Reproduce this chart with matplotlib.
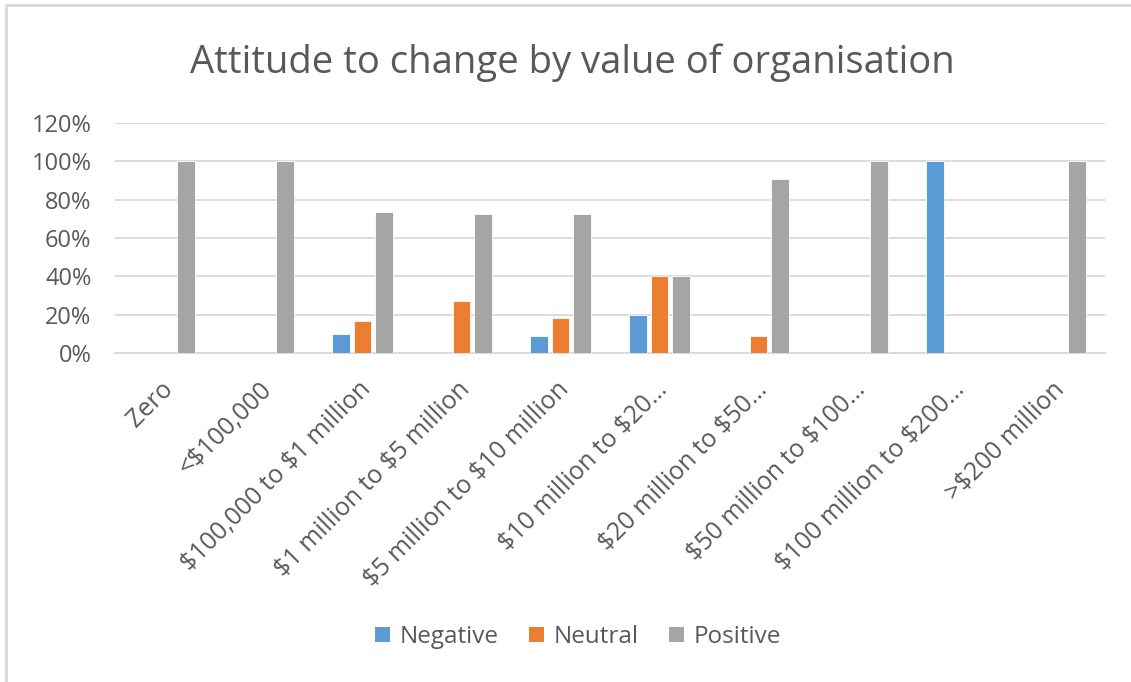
import matplotlib as mpl
import matplotlib.pyplot as plt
import matplotlib.transforms as mtransforms
import numpy as np
from matplotlib.patches import Patch, Rectangle

CATEGORIES = ["Zero", "<$100,000", "$100,000 to $1 million",
              "$1 million to $5 million", "$5 million to $10 million",
              "$10 million to $20\u2026", "$20 million to $50\u2026",
              "$50 million to $100\u2026", "$100 million to $200\u2026",
              ">$200 million"]
NEGATIVE = [0, 0, 10.0, 0, 9.1, 20.0, 0, 0, 100, 0]
NEUTRAL = [0, 0, 16.7, 27.3, 18.2, 40.0, 9.1, 0, 0, 0]
POSITIVE = [100, 100, 73.3, 72.7, 72.7, 40.0, 90.9, 100, 0, 100]

SERIES = ["Negative", "Neutral", "Positive"]
COLORS = ["#5B9BD5", "#ED7D31", "#A5A5A5"]
TEXT = "#595959"
GRID = "#D9D9D9"

mpl.rcParams.update({
    "font.family": ["Open Sans", "DejaVu Sans"],
    "text.parse_math": False,
    "text.color": TEXT,
    "xtick.color": TEXT,
    "ytick.color": TEXT,
})

fig = plt.figure(figsize=(11.31, 6.82), dpi=100)
ax = fig.add_axes((115/1131, 1-353.3/682, 990/1131, 230.6/682))

x = np.arange(len(CATEGORIES))
stride = 0.217
width = 0.18
for i, vals in enumerate([NEGATIVE, NEUTRAL, POSITIVE]):
    ax.bar(x + (i-1)*stride, vals, width, color=COLORS[i],
           edgecolor="white", linewidth=0.6, zorder=3)

ax.set_xlim(-0.5, len(CATEGORIES)-0.5)
ax.set_ylim(0, 120)
ax.set_yticks(np.arange(0, 121, 20))
ax.set_yticklabels(["{}%".format(v) for v in range(0, 121, 20)])
ax.yaxis.grid(True, color=GRID, linewidth=1.3, zorder=0)
for s in ["top", "right", "left"]:
    ax.spines[s].set_visible(False)
ax.spines["bottom"].set_color(GRID)
ax.spines["bottom"].set_linewidth(1.3)
ax.tick_params(axis="y", length=0, labelsize=17, pad=17)
ax.tick_params(axis="x", length=0, labelsize=18, pad=17)
ax.set_xticks(x)
ax.set_xticklabels(CATEGORIES, rotation=45, ha="right",
                   rotation_mode="anchor")
# nudge the slanted labels a little to the left, as in the original
shift = mtransforms.ScaledTranslation(-4/100, 0, fig.dpi_scale_trans)
for lbl in ax.get_xticklabels():
    lbl.set_transform(lbl.get_transform() + shift)

fig.text(0.5 + 7/1131, 1-63/682, "Attitude to change by value of organisation",
         ha="center", va="center", fontsize=27.5, color=TEXT)

handles = [Patch(facecolor=c, edgecolor="none") for c in COLORS]
fig.legend(handles, SERIES, loc="center", bbox_to_anchor=(578/1131, 1-637/682),
           ncol=3, frameon=False, fontsize=17.5, handlelength=0.62,
           handleheight=0.62, handletextpad=0.4, columnspacing=1.25)

# light chart border (left and top edges visible)
fig.patches.append(Rectangle((6/1131, -0.1), 1.2, 1-5/682+0.1,
                             transform=fig.transFigure, fill=False,
                             edgecolor=GRID, linewidth=2))

fig.savefig("out.png", dpi=100, facecolor="white")
